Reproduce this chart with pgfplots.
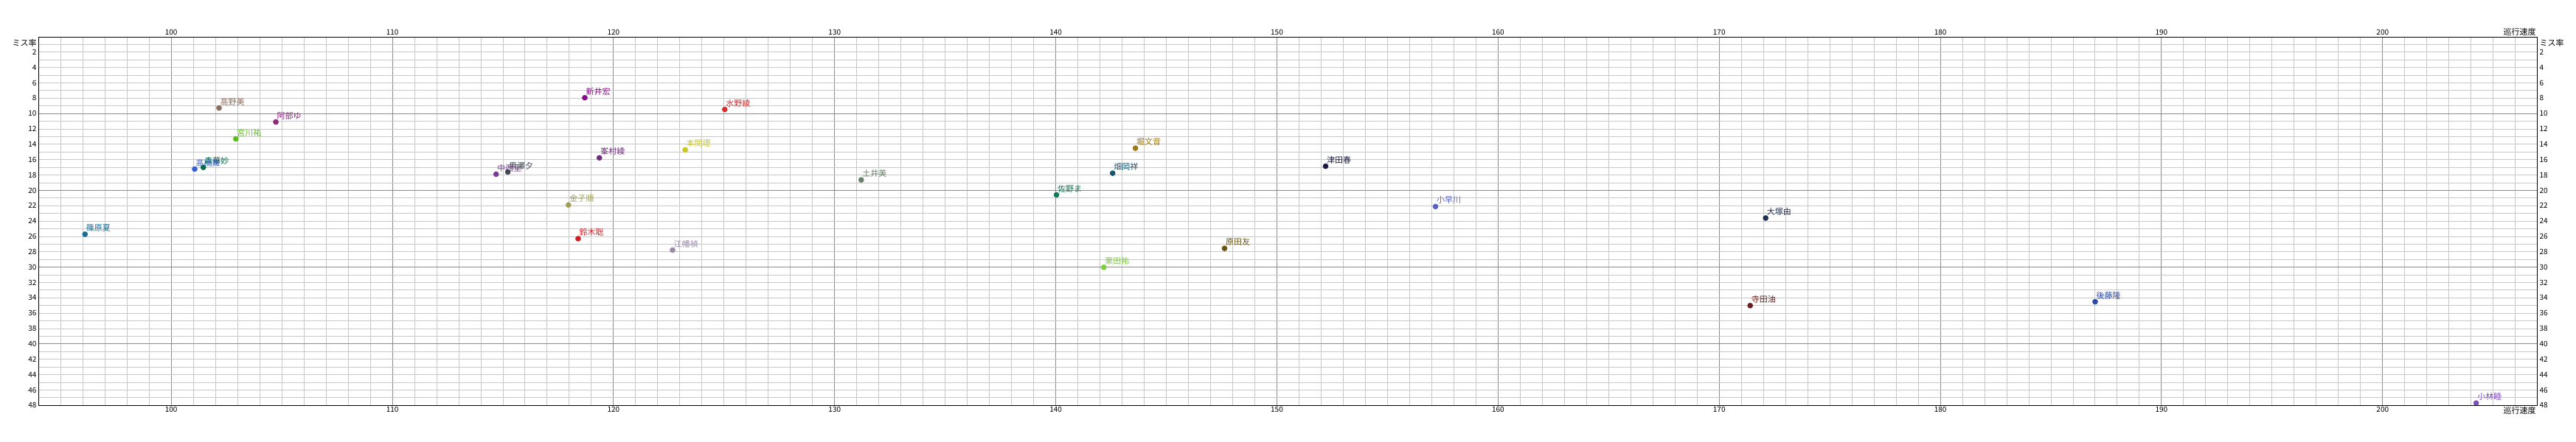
\documentclass[border=0pt]{standalone}
\usepackage{pgfplots}
\pgfplotsset{compat=1.18}
\usepackage{fontspec}
\setmainfont{Noto Sans CJK JP}
\definecolor{gmin}{HTML}{C8C8C8}
\definecolor{gmaj}{HTML}{8C8C8C}
\definecolor{cTakano}{HTML}{8C6E5F}
\definecolor{cAbe}{HTML}{8A2A7C}
\definecolor{cMiyakawa}{HTML}{5ABE1A}
\definecolor{cTaka}{HTML}{3A5FCD}
\definecolor{cKa}{HTML}{0B6B4F}
\definecolor{cNaka}{HTML}{7B3A96}
\definecolor{cSawa}{HTML}{404850}
\definecolor{cKaneko}{HTML}{A0A050}
\definecolor{cSuzuki}{HTML}{D01C24}
\definecolor{cArai}{HTML}{8B0A8B}
\definecolor{cMizuno}{HTML}{D83030}
\definecolor{cHonma}{HTML}{C8C820}
\definecolor{cMinemura}{HTML}{6E2E7E}
\definecolor{cDoi}{HTML}{6B806B}
\definecolor{cEbata}{HTML}{9A8AAA}
\definecolor{cHori}{HTML}{9A7A1A}
\definecolor{cHataoka}{HTML}{14566E}
\definecolor{cSano}{HTML}{0E7A5A}
\definecolor{cHarada}{HTML}{6A5410}
\definecolor{cKurita}{HTML}{7CCF3A}
\definecolor{cKobayakawa}{HTML}{5860C8}
\definecolor{cShinohara}{HTML}{1A6E96}
\definecolor{cKobayashi}{HTML}{7B50B8}
\definecolor{cTsuda}{HTML}{1A1A40}
\definecolor{cOtsuka}{HTML}{203050}
\definecolor{cTerada}{HTML}{6A2020}
\definecolor{cGoto}{HTML}{2A4AA0}
\newcommand\pnt[4]{\addplot[only marks, mark=*, mark size=1.7pt, color=#1,
  nodes near coords={#2},
  nodes near coords style={anchor=base west, inner sep=0pt, xshift=0.6pt, yshift=2.2pt, text=#1, font=\fontsize{5.5}{6}\selectfont}]
  coordinates {(#3,#4)};}
\begin{document}
\begin{tikzpicture}[font=\fontsize{5.5}{6}\selectfont]
\useasboundingbox (0,0) rectangle (1746.5pt,300pt);
\pgfplotsset{common/.style={
  at={(26.15pt,24.85pt)}, anchor=south west, scale only axis,
  width=1694.2pt, height=250.15pt,
  xmin=94, xmax=207, ymin=0, ymax=48, y dir=reverse,
  axis line style={black, line width=0.5pt},
  xtick={100,110,...,200}, ytick={2,4,...,48},
  major tick length=0pt, minor tick length=0pt,
  tick style={draw=none},
  /pgf/number format/assume math mode=true,
  ticklabel style={font=\fontsize{5}{6}\selectfont},
  xticklabel style={inner sep=1pt},
  yticklabel style={inner sep=1.2pt},
  clip=false,
}}
\begin{axis}[common,
  minor xtick={94,95,...,207}, minor ytick={1,2,...,47},
  xmajorgrids, xminorgrids, yminorgrids,
  minor grid style={gmin, line width=0.5pt},
  major grid style={gmaj, line width=0.5pt},
  extra y ticks={10,20,30,40}, extra y tick labels={},
  extra y tick style={grid=major},
  xticklabel pos=lower, yticklabel pos=left,
]
\pnt{cShinohara}{篠原夏}{96.1}{25.71}
\pnt{cTakano}{高野美}{102.16}{9.27}
\pnt{cAbe}{阿部ゆ}{104.73}{11.09}
\pnt{cMiyakawa}{宮川祐}{102.92}{13.29}
\pnt{cTaka}{高橋舞}{101.06}{17.22}
\pnt{cKa}{森華妙}{101.45}{17.0}
\pnt{cNaka}{中西里}{114.69}{17.89}
\pnt{cSawa}{黒澤夕}{115.22}{17.6}
\pnt{cKaneko}{金子順}{117.96}{21.9}
\pnt{cSuzuki}{鈴木聡}{118.4}{26.28}
\pnt{cArai}{新井宏}{118.7}{7.93}
\pnt{cMizuno}{水野綾}{125.03}{9.46}
\pnt{cHonma}{本間理}{123.24}{14.71}
\pnt{cMinemura}{峯村綾}{119.36}{15.76}
\pnt{cDoi}{土井美}{131.2}{18.63}
\pnt{cEbata}{江幡禎}{122.67}{27.77}
\pnt{cHori}{堀文音}{143.6}{14.5}
\pnt{cHataoka}{畑岡祥}{142.57}{17.76}
\pnt{cSano}{佐野ま}{140.03}{20.58}
\pnt{cHarada}{原田友}{147.63}{27.55}
\pnt{cKurita}{栗田祐}{142.17}{30.02}
\pnt{cKobayakawa}{小早川}{157.17}{22.1}
\pnt{cTsuda}{津田春}{152.2}{16.85}
\pnt{cOtsuka}{大塚由}{172.1}{23.6}
\pnt{cTerada}{寺田油}{171.4}{35.0}
\pnt{cGoto}{後藤隆}{187.0}{34.5}
\pnt{cKobayashi}{小林睦}{204.23}{47.7}
\node[anchor=north east, inner sep=1.2pt] at (axis cs:94,0) {ミス率};
\node[anchor=south east, inner sep=0.8pt] at (axis cs:207,0) {巡行速度};
\node[anchor=north east, inner sep=0.8pt] at (axis cs:207,48) {巡行速度};
\end{axis}
\begin{axis}[common,
  xticklabel pos=upper, yticklabel pos=right,
]
\node[anchor=north west, inner sep=1.2pt] at (axis cs:207,0) {ミス率};
\end{axis}
\end{tikzpicture}
\end{document}
